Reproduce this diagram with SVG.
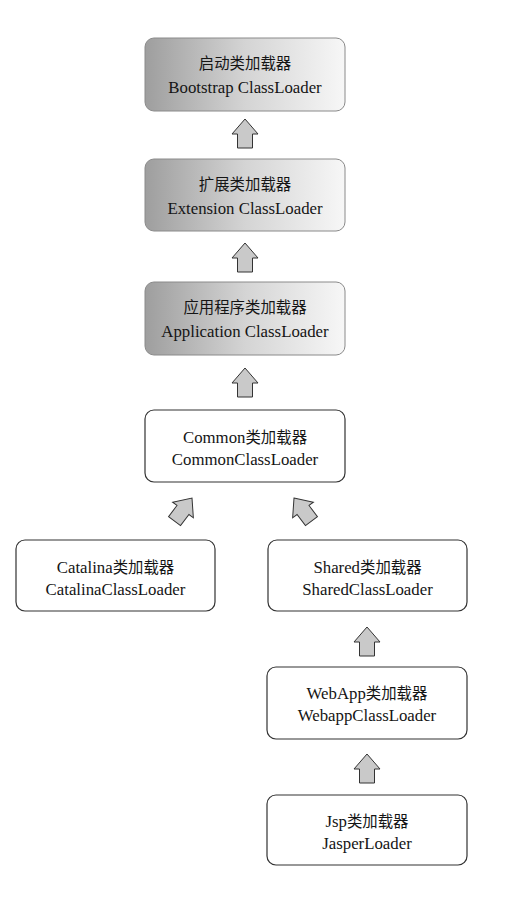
<svg xmlns="http://www.w3.org/2000/svg" width="521" height="899" viewBox="0 0 521 899">
<defs>
<linearGradient id="g" x1="0" y1="0" x2="1" y2="0">
<stop offset="0" stop-color="#9e9e9e"/>
<stop offset="0.5" stop-color="#d4d4d4"/>
<stop offset="1" stop-color="#f7f7f7"/>
</linearGradient>
<path id="arr" d="M0,0 L13,15 L7.5,15 L7.5,29 L-7.5,29 L-7.5,15 L-13,15 Z"/>
<style>
.gb{fill:url(#g);stroke:#8a8a8a;stroke-width:1}
.wb{fill:#fff;stroke:#333;stroke-width:1.2}
.t{font-family:"Liberation Serif","Noto Sans CJK SC",serif;font-size:16.8px;fill:#151515;text-anchor:middle}
.c{font-size:15.4px}
.a{fill:#c9c9c9;stroke:#333;stroke-width:1;stroke-linejoin:miter}
</style>
</defs>
<rect width="521" height="899" fill="#fff"/>
<g id="bootstrap">
<rect class="gb" x="145" y="38" width="200" height="73" rx="9"/>
<text class="t" x="245" y="69"><tspan class="c">启动类加载器</tspan></text>
<text class="t" x="245" y="93">Bootstrap ClassLoader</text>
</g>
<g id="extension">
<rect class="gb" x="145" y="159" width="200" height="72" rx="9"/>
<text class="t" x="245" y="190"><tspan class="c">扩展类加载器</tspan></text>
<text class="t" x="245" y="214">Extension ClassLoader</text>
</g>
<g id="application">
<rect class="gb" x="145" y="282" width="200" height="73" rx="9"/>
<text class="t" x="245" y="313"><tspan class="c">应用程序类加载器</tspan></text>
<text class="t" x="245" y="337">Application ClassLoader</text>
</g>
<g id="common">
<rect class="wb" x="145" y="410" width="200" height="72" rx="9"/>
<text class="t" x="245" y="443">Common<tspan class="c">类加载器</tspan></text>
<text class="t" x="245" y="465">CommonClassLoader</text>
</g>
<g id="catalina">
<rect class="wb" x="16" y="540" width="199" height="71" rx="9"/>
<text class="t" x="115.5" y="573">Catalina<tspan class="c">类加载器</tspan></text>
<text class="t" x="115.5" y="595">CatalinaClassLoader</text>
</g>
<g id="shared">
<rect class="wb" x="268" y="540" width="199" height="71" rx="9"/>
<text class="t" x="367.5" y="573">Shared<tspan class="c">类加载器</tspan></text>
<text class="t" x="367.5" y="595">SharedClassLoader</text>
</g>
<g id="webapp">
<rect class="wb" x="267" y="667" width="200" height="72" rx="9"/>
<text class="t" x="367" y="699">WebApp<tspan class="c">类加载器</tspan></text>
<text class="t" x="367" y="721">WebappClassLoader</text>
</g>
<g id="jsp">
<rect class="wb" x="267" y="795" width="200" height="70" rx="9"/>
<text class="t" x="367" y="827">Jsp<tspan class="c">类加载器</tspan></text>
<text class="t" x="367" y="849">JasperLoader</text>
</g>
<g id="connectors">
<use href="#arr" class="a" transform="translate(245,119)"/>
<use href="#arr" class="a" transform="translate(245,243)"/>
<use href="#arr" class="a" transform="translate(245,368)"/>
<use href="#arr" class="a" transform="translate(192,498) rotate(37)"/>
<use href="#arr" class="a" transform="translate(294,498) rotate(-37)"/>
<use href="#arr" class="a" transform="translate(367,627)"/>
<use href="#arr" class="a" transform="translate(367,754)"/>
</g>
</svg>
